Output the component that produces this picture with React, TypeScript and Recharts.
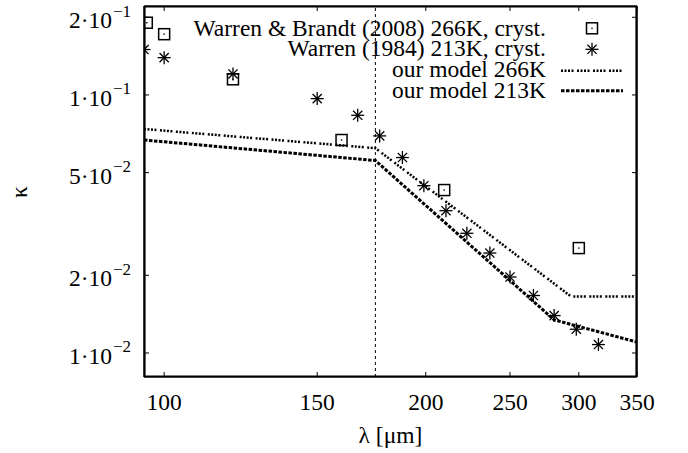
import React from 'react';
import { ComposedChart, Line, Scatter, XAxis, YAxis, ReferenceLine } from 'recharts';

// Warren & Brandt (2008) 266K, cryst.
const wb2008Lambda = [95.5, 100, 120, 160, 210, 300];
const wb2008Kappa = [0.1905, 0.172, 0.115, 0.0669, 0.0428, 0.0255];
// Warren (1984) 213K, cryst.
const w1984Lambda = [94.8, 100, 120, 150, 167, 177, 188, 199, 211, 223, 237, 250, 266, 281, 298, 316];
const w1984Kappa = [0.150, 0.1395, 0.1206, 0.0968, 0.0834, 0.0694, 0.0572, 0.0445, 0.0356, 0.0291, 0.0244, 0.0197, 0.0167, 0.01396, 0.01236, 0.01078];
// our model 266K
const model266Lambda = [94.8, 175, 294, 350];
const model266Kappa = [0.0738, 0.0622, 0.01654, 0.01654];
// our model 213K
const model213Lambda = [94.8, 175, 281, 350];
const model213Kappa = [0.0669, 0.0557, 0.01344, 0.01102];

const breakLambda = 175;
const xDomain = [94.8, 350];
const yDomain = [0.00807, 0.2212];
const xTicks = [100, 150, 200, 250, 300, 350];
const yTicks = [0.01, 0.02, 0.05, 0.1, 0.2];
const yTickMantissa = ['1', '2', '5', '1', '2'];
const yTickExponent = ['−2', '−2', '−2', '−1', '−1'];

const legendLabels = [
  'Warren & Brandt (2008) 266K, cryst.',
  'Warren (1984) 213K, cryst.',
  'our model 266K',
  'our model 213K',
];

const FONT = '"Liberation Serif", "Times New Roman", serif';
const FS = 23.5;

const toPts = (xs: number[], ys: number[]) => xs.map((x, i) => ({ x, y: ys[i] }));
const wb2008 = toPts(wb2008Lambda, wb2008Kappa);
const w1984 = toPts(w1984Lambda, w1984Kappa);
const model266 = toPts(model266Lambda, model266Kappa);
const model213 = toPts(model213Lambda, model213Kappa);

// plot border, traced along the domain corners
const frame = [
  { x: xDomain[0], y: yDomain[1] },
  { x: xDomain[1], y: yDomain[1] },
  { x: xDomain[1], y: yDomain[0] },
  { x: xDomain[0], y: yDomain[0] },
  { x: xDomain[0], y: yDomain[1] },
];

const DASH_266 = '2 1.5 2 1.5 2 1.5 2 3.5';
const DASH_213 = '3.5 1.5';

const SquareMark = ({ cx, cy }: any) => (
  <g>
    <rect x={cx - 5.5} y={cy - 5.5} width={11} height={11} fill="none" stroke="#000" strokeWidth={1.5} />
    <rect x={cx - 0.7} y={cy - 0.7} width={1.4} height={1.4} fill="#000" />
  </g>
);

const StarMark = ({ cx, cy }: any) => {
  const h = 6.5;
  const d = 4.6;
  return (
    <g stroke="#000" strokeWidth={1.3}>
      <line x1={cx} y1={cy - h} x2={cx} y2={cy + h} />
      <line x1={cx - h} y1={cy} x2={cx + h} y2={cy} />
      <line x1={cx - d} y1={cy - d} x2={cx + d} y2={cy + d} />
      <line x1={cx - d} y1={cy + d} x2={cx + d} y2={cy - d} />
    </g>
  );
};

const XTick = ({ x, y, payload }: any) => (
  <text x={x} y={y + 33} textAnchor="middle" fontFamily={FONT} fontSize={FS} fill="#000">
    {payload.value}
  </text>
);

const YTick = ({ x, y, payload }: any) => {
  const idx = yTicks.indexOf(payload.value);
  const i = idx < 0 ? 0 : idx;
  return (
    <g>
      <text x={x - 32} y={y + 11} textAnchor="end" fontFamily={FONT} fontSize={FS} fill="#000">
        {yTickMantissa[i] + '·10'}
      </text>
      <text x={x - 31} y={y - 0.5} textAnchor="start" fontFamily={FONT} fontSize={17} fill="#000">
        {yTickExponent[i]}
      </text>
    </g>
  );
};

const NoLabel = () => null;

// legend drawn as SVG inside the chart (top-right, inside the plot box)
const LegendGroup = () => (
  <g>
    {legendLabels.map((t, i) => (
      <text key={t} x={546} y={35.5 + i * 20.8} textAnchor="end" fontFamily={FONT} fontSize={FS} fill="#000">
        {t}
      </text>
    ))}
    <SquareMark cx={592} cy={28.3} />
    <StarMark cx={592} cy={49.3} />
    <line x1={561} y1={70.7} x2={623} y2={70.7} stroke="#000" strokeWidth={2.5} strokeDasharray={DASH_266} />
    <line x1={561} y1={90.7} x2={623} y2={90.7} stroke="#000" strokeWidth={3} strokeDasharray={DASH_213} />
  </g>
);

const AxisLabelX = () => (
  <g>
    <text x={390.5} y={443} textAnchor="middle" fontFamily={FONT} fontSize={FS} fill="#000">
      λ [μm]
    </text>
    <LegendGroup />
  </g>
);

const AxisLabelY = () => (
  <text x={27} y={192} textAnchor="middle" fontFamily={FONT} fontSize={FS} fill="#000" transform="rotate(-90, 27, 192)">
    κ
  </text>
);

const axisLineStyle = { stroke: '#000', strokeWidth: 1.6 };

export default function App() {
  return (
    <div style={{ position: 'absolute', left: 0, top: 0, width: 688, height: 453, background: '#fff' }}>
      <ComposedChart width={688} height={453} margin={{ top: 5, right: 50, bottom: 0, left: 0 }}>
        <XAxis
          dataKey="x"
          type="number"
          scale="log"
          domain={xDomain}
          allowDataOverflow
          ticks={xTicks}
          interval={0}
          height={76}
          tickSize={-5}
          tickMargin={5}
          tick={<XTick />}
          axisLine={axisLineStyle}
          stroke="#000"
          label={<AxisLabelX />}
        />
        <XAxis
          xAxisId="top"
          orientation="top"
          dataKey="x"
          type="number"
          scale="log"
          domain={xDomain}
          allowDataOverflow
          ticks={xTicks}
          interval={0}
          height={1}
          tickSize={-5}
          tick={NoLabel}
          axisLine={axisLineStyle}
          stroke="#000"
        />
        <YAxis
          type="number"
          scale="log"
          domain={yDomain}
          allowDataOverflow
          ticks={yTicks}
          interval={0}
          width={144}
          tickSize={-5}
          tickMargin={5}
          tick={<YTick />}
          axisLine={axisLineStyle}
          stroke="#000"
          label={<AxisLabelY />}
        />
        <YAxis
          yAxisId="r"
          orientation="right"
          type="number"
          scale="log"
          domain={yDomain}
          allowDataOverflow
          ticks={yTicks}
          interval={0}
          width={1}
          tickSize={-5}
          tick={NoLabel}
          axisLine={axisLineStyle}
          stroke="#000"
        />
        <Line
          data={frame}
          dataKey="y"
          type="linear"
          stroke="#000"
          strokeWidth={3.2}
          dot={false}
          activeDot={false}
          legendType="none"
          isAnimationActive={false}
        />
        <ReferenceLine x={breakLambda} stroke="#000" strokeWidth={1} strokeDasharray="3 3" />
        <Line
          data={model266}
          dataKey="y"
          type="linear"
          stroke="#000"
          strokeWidth={2.5}
          strokeDasharray={DASH_266}
          dot={false}
          activeDot={false}
          isAnimationActive={false}
          name={legendLabels[2]}
        />
        <Line
          data={model213}
          dataKey="y"
          type="linear"
          stroke="#000"
          strokeWidth={3}
          strokeDasharray={DASH_213}
          dot={false}
          activeDot={false}
          isAnimationActive={false}
          name={legendLabels[3]}
        />
        <Scatter data={wb2008} dataKey="y" shape={<SquareMark />} isAnimationActive={false} name={legendLabels[0]} />
        <Scatter data={w1984} dataKey="y" shape={<StarMark />} isAnimationActive={false} name={legendLabels[1]} />
      </ComposedChart>
    </div>
  );
}
